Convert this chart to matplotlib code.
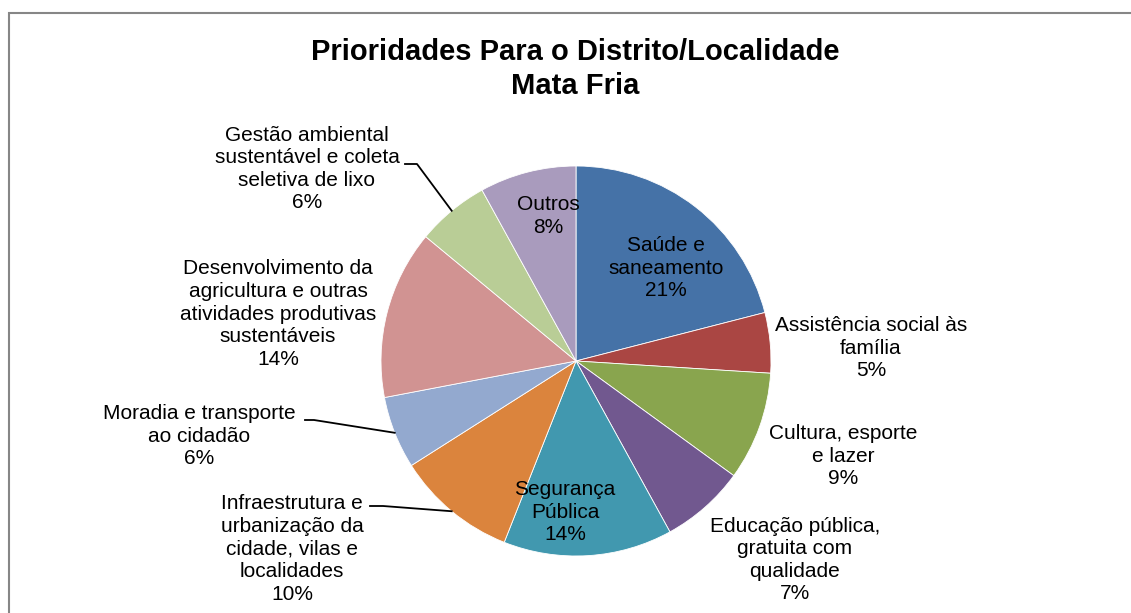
import matplotlib
matplotlib.use("Agg")
import matplotlib.pyplot as plt
import numpy as np
from matplotlib.patches import Rectangle

plt.rcParams['font.family'] = ['Liberation Sans', 'DejaVu Sans']

categories = [
    "Saúde e\nsaneamento",
    "Assistência social às\nfamília",
    "Cultura, esporte\ne lazer",
    "Educação pública,\ngratuita com\nqualidade",
    "Segurança\nPública",
    "Infraestrutura e\nurbanização da\ncidade, vilas e\nlocalidades",
    "Moradia e transporte\nao cidadão",
    "Desenvolvimento da\nagricultura e outras\natividades produtivas\nsustentáveis",
    "Gestão ambiental\nsustentável e coleta\nseletiva de lixo",
    "Outros",
]
values = [21, 5, 9, 7, 14, 10, 6, 14, 6, 8]
colors = ["#4572A7", "#AA4643", "#89A54E", "#71588F", "#4198AF",
          "#DB843D", "#93A9CF", "#D19392", "#B9CD96", "#A99BBD"]
title = "Prioridades Para o Distrito/Localidade\nMata Fria"

W, H = 1131, 613
fig = plt.figure(figsize=(W / 100, H / 100), dpi=100)
ax = fig.add_axes([0, 0, 1, 1])

cx, cy, R = 576, H - 361, 195
wedges, _ = ax.pie(values, colors=colors, startangle=90, counterclock=False,
                   center=(cx, cy), radius=R,
                   wedgeprops=dict(edgecolor="white", linewidth=0.6))
ax.set_xlim(0, W)
ax.set_ylim(0, H)
ax.set_aspect('equal')
ax.axis('off')

# frame
ax.add_patch(Rectangle((8.5, -10), W + 20, H - 13 + 10, fill=False,
                       edgecolor="#868686", linewidth=1.5, zorder=0))

ax.text(575, H - 69, title, ha='center', va='center', fontsize=21,
        fontweight='bold', linespacing=1.27)

# label placement (pixel positions of text block centres, reference layout)
label_pos = [
    (666, 268),
    (871, 348),
    (843, 456),
    (795, 560),
    (565, 512),
    (292, 549),
    (199, 436),
    (278, 314),
    (307, 169),
    (548, 216),
]
# leader line anchors (pixel) for labels that have them
leaders = {5: [(370, 506), (383, 506)],
           6: [(305, 420), (314, 420)],
           8: [(405, 164), (417, 164)]}

total = sum(values)
for i, (cat, v, w) in enumerate(zip(categories, values, wedges)):
    txt = f"{cat}\n{round(100 * v / total)}%"
    px, py = label_pos[i]
    ax.text(px, H - py, txt, ha='center', va='center', fontsize=15,
            linespacing=1.24, color='black')
    if i in leaders:
        mid = np.deg2rad((w.theta1 + w.theta2) / 2)
        ex, ey = cx + R * np.cos(mid), cy + R * np.sin(mid)
        pts = leaders[i]
        xs = [pts[0][0], pts[1][0], ex]
        ys = [H - pts[0][1], H - pts[1][1], ey]
        ax.plot(xs, ys, color='black', linewidth=1.3)

fig.savefig("out.png", dpi=100)
